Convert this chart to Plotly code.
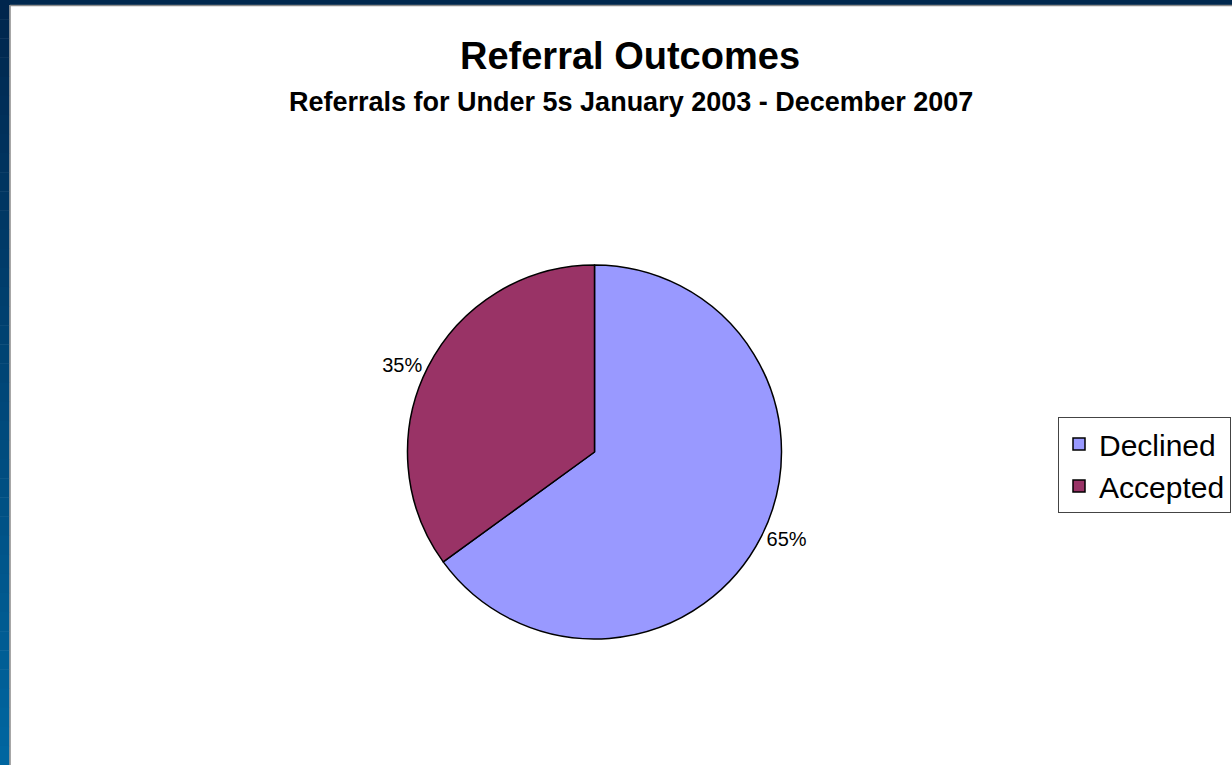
import plotly.graph_objects as go

labels = ["Declined", "Accepted"]
values = [65, 35]
colors = ["#9999FF", "#993366"]

title_text = "Referral Outcomes"
subtitle_text = "Referrals for Under 5s January 2003 - December 2007"

W, H = 1232, 765
FONT = "Liberation Sans, Arial, sans-serif"

def px(x):
    return x / W

def py(y):
    return 1 - y / H

cx, cy, r = 594.5, 452, 187

fig = go.Figure(go.Pie(
    labels=labels,
    values=values,
    marker=dict(colors=colors, line=dict(color="black", width=1.5)),
    sort=False,
    direction="clockwise",
    rotation=0,
    textinfo="percent",
    textposition="outside",
    textfont=dict(family=FONT, size=20, color="black"),
    domain=dict(x=[px(cx - r), px(cx + r)], y=[py(cy + r), py(cy - r)]),
    hoverinfo="label+percent",
))

shapes = []
# top dark band
shapes.append(dict(type="rect", xref="paper", yref="paper", x0=0, x1=1, y0=py(5), y1=1,
                   fillcolor="#00284f", line=dict(width=0), layer="above"))
# left gradient band
n = 40
c0 = (0x00, 0x26, 0x4d)
c1 = (0x00, 0x66, 0xa0)
for i in range(n):
    t = i / (n - 1)
    c = tuple(int(round(a + (b - a) * t)) for a, b in zip(c0, c1))
    shapes.append(dict(type="rect", xref="paper", yref="paper",
                       x0=0, x1=px(9.5), y0=py((i + 1) * H / n + 0.5), y1=py(i * H / n),
                       fillcolor="rgb(%d,%d,%d)" % c, line=dict(width=0), layer="above"))
# grey border lines of the white panel
shapes.append(dict(type="line", xref="paper", yref="paper", x0=px(10), x1=px(10), y0=0, y1=py(5),
                   line=dict(color="#8a8a8a", width=1.5), layer="above"))
shapes.append(dict(type="line", xref="paper", yref="paper", x0=px(10), x1=1, y0=py(5.5), y1=py(5.5),
                   line=dict(color="#8a8a8a", width=1.5), layer="above"))

annotations = [
    dict(text="<b>%s</b>" % title_text, x=px(630), y=py(56), xref="paper", yref="paper",
         xanchor="center", yanchor="middle", showarrow=False,
         font=dict(family=FONT, size=38, color="black")),
    dict(text="<b>%s</b>" % subtitle_text, x=px(631), y=py(102), xref="paper", yref="paper",
         xanchor="center", yanchor="middle", showarrow=False,
         font=dict(family=FONT, size=27, color="black")),
]

fig.update_layout(
    width=W, height=H,
    margin=dict(l=0, r=0, t=0, b=0),
    paper_bgcolor="white",
    plot_bgcolor="white",
    shapes=shapes,
    annotations=annotations,
    showlegend=True,
    legend=dict(x=px(1058), y=py(417), xanchor="left", yanchor="top",
                bordercolor="#444444", borderwidth=1, bgcolor="white",
                font=dict(family=FONT, size=30, color="black"),
                itemwidth=30),
)

fig.write_html(
    "out.html",
    config={"displayModeBar": False},
    post_script="document.body.style.margin='0';document.body.style.overflow='hidden';",
)
